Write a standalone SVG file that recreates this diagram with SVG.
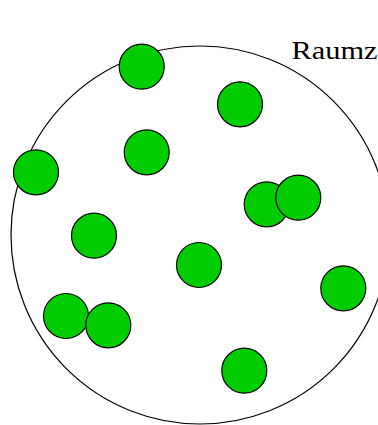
<svg xmlns="http://www.w3.org/2000/svg" width="378" height="425" viewBox="0 0 378 425">
<style>
.p{fill:#00cc00;stroke:#000;stroke-width:1.2}
.space{fill:none;stroke:#000;stroke-width:1.2}
.lbl{font-family:"Liberation Serif",serif;font-size:25px;fill:#000}
</style>
<rect width="378" height="425" fill="#fff"/>
<g id="space"><circle class="space" cx="200" cy="235" r="189"/></g>
<text class="lbl" x="291.5" y="59" textLength="86" lengthAdjust="spacingAndGlyphs">Raumz</text>
<g id="p1"><circle class="p" cx="141.7" cy="66.7" r="22.5"/></g>
<g id="p2"><circle class="p" cx="240" cy="104.3" r="22.5"/></g>
<g id="p3"><circle class="p" cx="146.7" cy="152.3" r="22.5"/></g>
<g id="p4"><circle class="p" cx="36" cy="172.3" r="22.5"/></g>
<g id="p5"><circle class="p" cx="266.7" cy="204.3" r="22.5"/></g>
<g id="p6"><circle class="p" cx="298.3" cy="197.7" r="22.5"/></g>
<g id="p7"><circle class="p" cx="94" cy="235.7" r="22.5"/></g>
<g id="p8"><circle class="p" cx="199" cy="265" r="22.5"/></g>
<g id="p9"><circle class="p" cx="343.3" cy="288.3" r="22.5"/></g>
<g id="p10"><circle class="p" cx="66" cy="316" r="22.5"/></g>
<g id="p11"><circle class="p" cx="108.3" cy="325.3" r="22.5"/></g>
<g id="p12"><circle class="p" cx="244.3" cy="370.7" r="22.5"/></g>
</svg>
